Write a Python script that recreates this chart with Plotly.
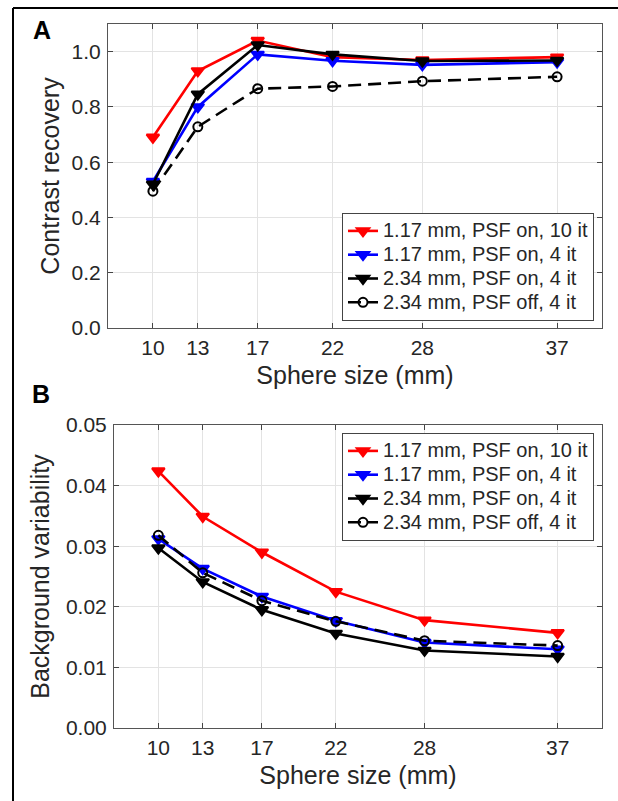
import plotly.graph_objects as go

# ---------------- data ----------------
sphere_size = [10, 13, 17, 22, 28, 37]
tick_vals = [10, 13, 17, 22, 28, 37]

series_names = [
    "1.17 mm, PSF on, 10 it",
    "1.17 mm, PSF on, 4 it",
    "2.34 mm, PSF on, 4 it",
    "2.34 mm, PSF off, 4 it",
]

# Panel A: contrast recovery
cr_117_psf_10 = [0.69, 0.93, 1.04, 0.98, 0.97, 0.98]
cr_117_psf_4 = [0.53, 0.80, 0.99, 0.967, 0.952, 0.962]
cr_234_psf_4 = [0.52, 0.846, 1.024, 0.99, 0.966, 0.968]
cr_234_nopsf_4 = [0.495, 0.728, 0.866, 0.874, 0.893, 0.909]

# Panel B: background variability
bv_117_psf_10 = [0.0424, 0.0349, 0.0290, 0.0225, 0.0178, 0.0157]
bv_117_psf_4 = [0.0312, 0.0263, 0.0217, 0.0177, 0.0141, 0.0130]
bv_234_psf_4 = [0.0297, 0.0241, 0.0195, 0.0156, 0.0128, 0.0118]
bv_234_nopsf_4 = [0.0318, 0.0256, 0.0210, 0.0176, 0.0144, 0.0136]

# ---------------- styling ----------------
W, H = 618, 801
FONT = "Liberation Sans, Arial, sans-serif"
styles = [
    dict(color="#ff0000", dash="solid", symbol="triangle-down"),
    dict(color="#0000ff", dash="solid", symbol="triangle-down"),
    dict(color="#000000", dash="solid", symbol="triangle-down"),
    dict(color="#000000", dash="dash", symbol="circle-open"),
]

fig = go.Figure()

def add_panel(values, xaxis, yaxis, legend):
    for name, vals, st in zip(series_names, values, styles):
        marker = dict(symbol=st["symbol"], size=11 if "triangle" in st["symbol"] else 9,
                      color=st["color"], line=dict(color=st["color"], width=2))
        fig.add_trace(go.Scatter(
            x=sphere_size, y=vals,
            name='<span style="font-size:20px">' + name + "</span>",
            mode="lines+markers",
            line=dict(color=st["color"], width=2.6, dash="13px,7px" if st["dash"] == "dash" else "solid"),
            marker=marker, xaxis=xaxis, yaxis=yaxis, legend=legend,
        ))

add_panel([cr_117_psf_10, cr_117_psf_4, cr_234_psf_4, cr_234_nopsf_4], "x", "y", "legend")
add_panel([bv_117_psf_10, bv_117_psf_4, bv_234_psf_4, bv_234_nopsf_4], "x2", "y2", "legend2")

def px_x(p):
    return p / W

def px_y(p):
    return 1 - p / H

axis_common = dict(
    showline=True, linecolor="#555555", linewidth=1, mirror="allticks",
    ticks="inside", ticklen=5, tickcolor="#444444",
    showgrid=True, gridcolor="#e3e3e3", gridwidth=1, automargin=False,
    zeroline=False, tickfont=dict(family=FONT, size=21, color="#262626"),
)
title_font = dict(family=FONT, size=25, color="#262626")

xa = dict(axis_common, range=[7, 40], tickvals=tick_vals, ticktext=[str(v) for v in tick_vals],
          title=dict(text="Sphere size (mm)", font=title_font, standoff=8),
          ticklabelstandoff=1)

legend_common = dict(
    bgcolor="white", bordercolor="#444444", borderwidth=1,
    font=dict(family=FONT, size=16, color="#262626"), itemwidth=30,
    tracegroupgap=0, xanchor="right", valign="middle",
)

fig.update_layout(
    width=W, height=H, autosize=False,
    margin=dict(l=0, r=0, t=0, b=0, pad=0, autoexpand=False),
    paper_bgcolor="white", plot_bgcolor="white",
    showlegend=True,
    xaxis=dict(xa, domain=[px_x(108), px_x(602)], anchor="y"),
    yaxis=dict(axis_common, domain=[px_y(328), px_y(24)], anchor="x", range=[0, 1.1],
               tickvals=[0, 0.2, 0.4, 0.6, 0.8, 1.0], tickformat=".1f",
               title=dict(text="Contrast recovery", font=title_font, standoff=4),
               ticklabelstandoff=2),
    xaxis2=dict(xa, domain=[px_x(114), px_x(602)], anchor="y2"),
    yaxis2=dict(axis_common, domain=[px_y(728), px_y(425)], anchor="x2", range=[0, 0.05],
                tickvals=[0, 0.01, 0.02, 0.03, 0.04, 0.05], tickformat=".2f",
                title=dict(text="Background variability", font=title_font, standoff=9),
                ticklabelstandoff=2),
    legend=dict(legend_common, x=px_x(594), y=px_y(321), yanchor="bottom"),
    legend2=dict(legend_common, x=px_x(594), y=px_y(433), yanchor="top"),
    shapes=[
        dict(type="line", xref="paper", yref="paper", x0=px_x(13), x1=px_x(13),
             y0=px_y(8), y1=-0.01, line=dict(color="black", width=2)),
        dict(type="line", xref="paper", yref="paper", x0=px_x(13), x1=1.01,
             y0=px_y(8), y1=px_y(8), line=dict(color="black", width=2)),
    ],
    annotations=[
        dict(text="<b>A</b>", x=px_x(42), y=px_y(30), xref="paper", yref="paper",
             xanchor="center", yanchor="middle",
             showarrow=False, font=dict(family=FONT, size=25, color="black")),
        dict(text="<b>B</b>", x=px_x(41), y=px_y(394), xref="paper", yref="paper",
             xanchor="center", yanchor="middle",
             showarrow=False, font=dict(family=FONT, size=25, color="black")),
    ],
)

fig.write_html(
    "out.html",
    config={"displayModeBar": False, "responsive": False},
    post_script="document.documentElement.style.margin='0';document.body.style.margin='0';"
                "document.body.style.padding='0';document.body.style.overflow='hidden';"
                "document.documentElement.style.overflow='hidden';",
)
